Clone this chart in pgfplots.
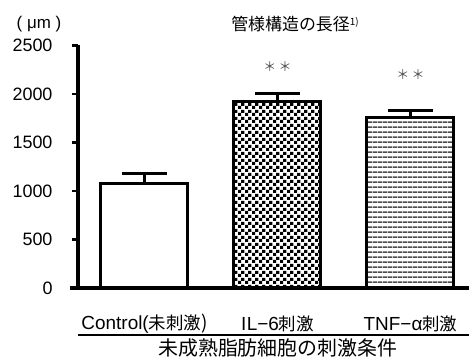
\documentclass[border=0pt]{standalone}
\usepackage{fontspec}
\setmainfont{Liberation Sans}
\newfontfamily\jp{Noto Sans CJK JP}
\usepackage{pgfplots}
\pgfplotsset{compat=1.18}
\usetikzlibrary{patterns}
\pgfdeclarepatternformonly{mycheck}{\pgfpointorigin}{\pgfqpoint{6.6bp}{6.6bp}}{\pgfqpoint{6.6bp}{6.6bp}}{%
 \pgfpathrectangle{\pgfpointorigin}{\pgfqpoint{3.3bp}{3.3bp}}%
 \pgfpathrectangle{\pgfqpoint{3.3bp}{3.3bp}}{\pgfqpoint{3.3bp}{3.3bp}}%
 \pgfusepath{fill}}
\pgfdeclarepatternformonly{myhlines}{\pgfpointorigin}{\pgfqpoint{4.6bp}{4.6bp}}{\pgfqpoint{4.6bp}{4.6bp}}{%
 \pgfpathrectangle{\pgfpointorigin}{\pgfqpoint{4.6bp}{1.7bp}}%
 \pgfusepath{fill}}
\newcommand{\lat}{\fontsize{19}{19}\selectfont}
\newcommand{\cj}{\jp\fontsize{17.5}{17.5}\selectfont}
\begin{document}
\begin{tikzpicture}
\useasboundingbox (0,0) rectangle (469bp,357bp);
\begin{axis}[
 at={(78bp,69bp)}, anchor=south west,
 width=391bp, height=242.6bp, scale only axis,
 xmin=-0.5, xmax=2.44, ymin=0, ymax=2500,
 clip=false,
 axis x line*=bottom, axis y line*=left,
 axis line style={line width=3bp, black},
 ytick={0,500,1000,1500,2000,2500},
 tick align=outside,
 major tick length=6bp,
 ytick style={line width=2.5bp, black},
 xtick={0,1,2},
 xtick style={draw=none},
 xticklabels={{\lat Control(\cj 未刺激\lat)},{\lat I\kern0.5bp L−6\cj 刺激},{\lat TNF−α\cj 刺激}},
 xticklabel style={anchor=center, yshift=-30bp},
 yticklabel style={font=\fontsize{18}{18}\selectfont, anchor=east, xshift=-16bp},
 /pgf/number format/assume math mode=true,
 /pgf/number format/1000 sep={},
 xlabel={\jp\fontsize{20}{20}\selectfont 未成熟脂肪細胞の刺激条件},
 xlabel style={at={(axis description cs:0.511,-0.247)}, anchor=center},
 ybar, bar width=87bp,
]
\addplot[bar shift=0pt, draw=black, line width=3bp, fill=white,
  error bars/.cd, y dir=plus, y explicit, error mark=|,
  error bar style={line width=3bp, black},
  error mark options={mark size=22.5bp, line width=3bp, black}]
  coordinates {(0,1075) +- (0,110)};
\addplot[bar shift=0pt, draw=black, line width=3bp, pattern=mycheck, pattern color=black,
  error bars/.cd, y dir=plus, y explicit, error mark=|,
  error bar style={line width=3bp, black},
  error mark options={mark size=22.5bp, line width=3bp, black}]
  coordinates {(1,1917) +- (0,83)};
\addplot[bar shift=0pt, draw=black, line width=3bp, pattern=myhlines, pattern color=black!70,
  error bars/.cd, y dir=plus, y explicit, error mark=|,
  error bar style={line width=3bp, black},
  error mark options={mark size=22.5bp, line width=3bp, black}]
  coordinates {(2,1752) +- (0,78)};
\draw[line width=3bp] (rel axis cs:-0.0205,0) -- (rel axis cs:0,0);
\draw[line width=2bp] (rel axis cs:0,-0.194) -- (rel axis cs:1,-0.194);
\node[text=black!70, font=\jp\fontsize{13}{13}\selectfont] at (axis cs:1,2283) {＊\,＊};
\node[text=black!70, font=\jp\fontsize{13}{13}\selectfont] at (axis cs:2,2200) {＊\,＊};
\node[font=\jp\fontsize{17}{17}\selectfont] at (rel axis cs:0.555,1.087) {管様構造の長径\raisebox{5bp}{\fontsize{10}{10}\selectfont 1)}};
\node[font=\fontsize{17}{17}\selectfont] at (rel axis cs:-0.0997,1.087) {( μm )};
\end{axis}
\end{tikzpicture}
\end{document}
